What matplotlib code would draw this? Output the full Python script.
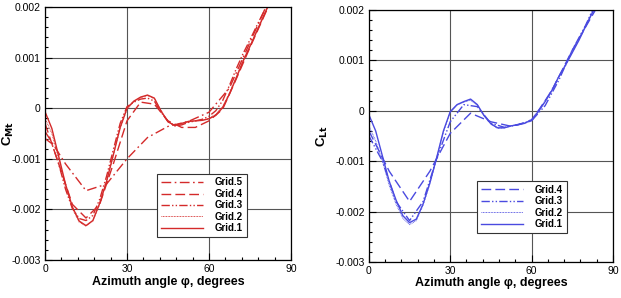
import numpy as np
import matplotlib
matplotlib.use("Agg")
import matplotlib.pyplot as plt
from matplotlib.ticker import MultipleLocator

# ---- data ----
phi_fine = [0, 2.5, 5, 7.5, 10, 12.5, 15, 17.5, 20, 22.5, 25, 27.5, 30, 32.5, 35, 37.5, 40,
            42.5, 45, 47.5, 50, 52.5, 55, 57.5, 60, 62.5, 65, 67.5, 70, 72.5, 75, 77.5, 80,
            82.5, 85]
phi_mid = [0, 5, 10, 15, 20, 25, 30, 35, 40, 45, 50, 55, 60, 65, 70, 75, 80, 85]
phi_coarse = [0, 7.5, 15, 22.5, 30, 37.5, 45, 52.5, 60, 67.5, 75, 82.5, 90]

# left panel
left_g1 = [-0.00007, -0.0004, -0.00095, -0.0015, -0.00195, -0.00223, -0.00232, -0.00222,
           -0.00188, -0.00145, -0.00092, -0.00038, 0.0, 0.00014, 0.00022, 0.00026, 0.0002,
           -0.00006, -0.00027, -0.00034, -0.0003, -0.00026, -0.00025, -0.00024, -0.00021,
           -0.00014, 0.00001, 0.00028, 0.0006, 0.00093, 0.00122, 0.00152, 0.00182, 0.00212,
           0.0024]
left_g2 = [-0.0002, -0.0005, -0.001, -0.00155, -0.00198, -0.00225, -0.00233, -0.00223,
           -0.0019, -0.00146, -0.00093, -0.0004, -0.00002, 0.00013, 0.00021, 0.00025, 0.00019,
           -0.00005, -0.00026, -0.00035, -0.00031, -0.00027, -0.00025, -0.00024, -0.0002,
           -0.00012, 0.00003, 0.0003, 0.00062, 0.00094, 0.00123, 0.00153, 0.00183, 0.00213,
           0.00243]
left_g3 = [-0.0006, -0.0007, -0.0011, -0.0016, -0.00198, -0.00218, -0.00222, -0.00212,
           -0.0018, -0.00135, -0.00082, -0.0003, 0.00003, 0.00012, 0.00018, 0.0002, 0.00014,
           -0.00008, -0.00026, -0.00035, -0.00033, -0.00028, -0.00025, -0.00022, -0.00016,
           -0.00005, 0.00015, 0.00045, 0.00078, 0.00108, 0.00135, 0.00163, 0.0019, 0.0022,
           0.0025]
left_g4 = [-0.0003, -0.0011, -0.0019, -0.00217, -0.0019, -0.0011, -0.00025, 0.00012, 0.00008,
           -0.00025, -0.00038, -0.00038, -0.00025, -0.00002, 0.00058, 0.0012, 0.0018, 0.0024]
left_g5 = [-0.00046, -0.0011, -0.00163, -0.0015, -0.001, -0.00058, -0.00036, -0.00026,
           -0.00008, 0.0004, 0.0013, 0.0022, 0.0031]

# right panel
right_g1 = [-0.00008, -0.0004, -0.0009, -0.0014, -0.00177, -0.00208, -0.00222, -0.00215,
            -0.00185, -0.00143, -0.00093, -0.0004, -0.00002, 0.00012, 0.00018, 0.00023, 0.00012,
            -0.0001, -0.00026, -0.00034, -0.00034, -0.0003, -0.00028, -0.00025, -0.00018,
            -0.00002, 0.00018, 0.0004, 0.00067, 0.0009, 0.00115, 0.0014, 0.00168, 0.00195,
            0.0022]
right_g2 = [-0.0003, -0.0006, -0.001, -0.00148, -0.00185, -0.00213, -0.00226, -0.00218,
            -0.00187, -0.00145, -0.00094, -0.00042, -0.00003, 0.00011, 0.00017, 0.00021, 0.00011,
            -0.0001, -0.00027, -0.00035, -0.00034, -0.0003, -0.00027, -0.00024, -0.00017,
            0.0, 0.0002, 0.00042, 0.00068, 0.00091, 0.00116, 0.00142, 0.0017, 0.00197,
            0.00224]
right_g3 = [-0.0005, -0.001, -0.0018, -0.00218, -0.0018, -0.00095, -0.00022, 0.00012, 0.00008,
            -0.00025, -0.00033, -0.00028, -0.0002, 0.0001, 0.0006, 0.0012, 0.0017, 0.0023]
right_g4 = [-0.0004, -0.0012, -0.0018, -0.0012, -0.00045, -0.00005, -0.00022, -0.00031,
            -0.0002, 0.0004, 0.0012, 0.0019, 0.0026]

xticks = [0, 30, 60, 90]
yticks = [-0.003, -0.002, -0.001, 0, 0.001, 0.002]
ytick_labels = ["-0.003", "-0.002", "-0.001", "0", "0.001", "0.002"]

RED = "#d42a2a"
BLUE = "#4a4ae0"

styles = {
    "Grid.5": dict(dashes=(7, 2.5, 1.2, 2.5)),
    "Grid.4": dict(dashes=(7, 3)),
    "Grid.3": dict(dashes=(6, 1.6, 1, 1.6, 1, 1.6)),
    "Grid.2": dict(dashes=(0.8, 0.8), lw=0.7),
    "Grid.1": dict(linestyle="-"),
}

plt.rcParams["font.family"] = ["Liberation Sans", "DejaVu Sans"]

fig = plt.figure(figsize=(6.21, 2.98), dpi=100)
ax1 = fig.add_axes([0.0725, 0.1275, 0.396, 0.849])
ax2 = fig.add_axes([0.594, 0.121, 0.393, 0.846])


def draw(ax, series, color, ylabel, legend_anchor, ylabel_x):
    for name, (x, y) in series:
        kw = dict(styles[name])
        lw = kw.pop("lw", 1.0)
        ax.plot(x, y, color=color, lw=lw, label=name, **kw)
    ax.set_xlim(0, 90)
    ax.set_ylim(-0.003, 0.002)
    ax.set_xticks(xticks)
    ax.set_xticklabels([str(t) for t in xticks])
    ax.set_yticks(yticks)
    ax.set_yticklabels(ytick_labels)
    ax.xaxis.set_minor_locator(MultipleLocator(6))
    ax.yaxis.set_minor_locator(MultipleLocator(0.0002))
    ax.tick_params(which="both", direction="in", labelsize=7.5, width=0.8, pad=3)
    ax.tick_params(which="major", length=5)
    ax.tick_params(which="minor", length=2.5)
    ax.grid(True, which="major", color="#555555", lw=0.8)
    for sp in ax.spines.values():
        sp.set_linewidth(0.9)
    ax.set_xlabel("Azimuth angle \u03c6, degrees", fontsize=9, fontweight="bold", labelpad=1)
    ax.set_ylabel(ylabel, fontsize=9.5, fontweight="bold")
    ax.yaxis.set_label_coords(ylabel_x, 0.5)
    leg = ax.legend(loc="lower right", bbox_to_anchor=legend_anchor,
                    prop=dict(weight="bold", size=7), handlelength=4.4, handletextpad=1.2,
                    labelspacing=0.15, borderpad=0.4, fancybox=False, framealpha=1,
                    edgecolor="#333333")
    leg.get_frame().set_linewidth(0.8)


left_series = [
    ("Grid.5", (phi_coarse, left_g5)),
    ("Grid.4", (phi_mid, left_g4)),
    ("Grid.3", (phi_fine, left_g3)),
    ("Grid.2", (phi_fine, left_g2)),
    ("Grid.1", (phi_fine, left_g1)),
]
right_series = [
    ("Grid.4", (phi_coarse, right_g4)),
    ("Grid.3", (phi_mid, right_g3)),
    ("Grid.2", (phi_fine, right_g2)),
    ("Grid.1", (phi_fine, right_g1)),
]

draw(ax1, left_series, RED, "C$_{\\mathbf{Mt}}$", (0.841, 0.071), -0.118)
draw(ax2, right_series, BLUE, "C$_{\\mathbf{Lt}}$", (0.832, 0.095), -0.16)

fig.savefig("out.png", dpi=100)
